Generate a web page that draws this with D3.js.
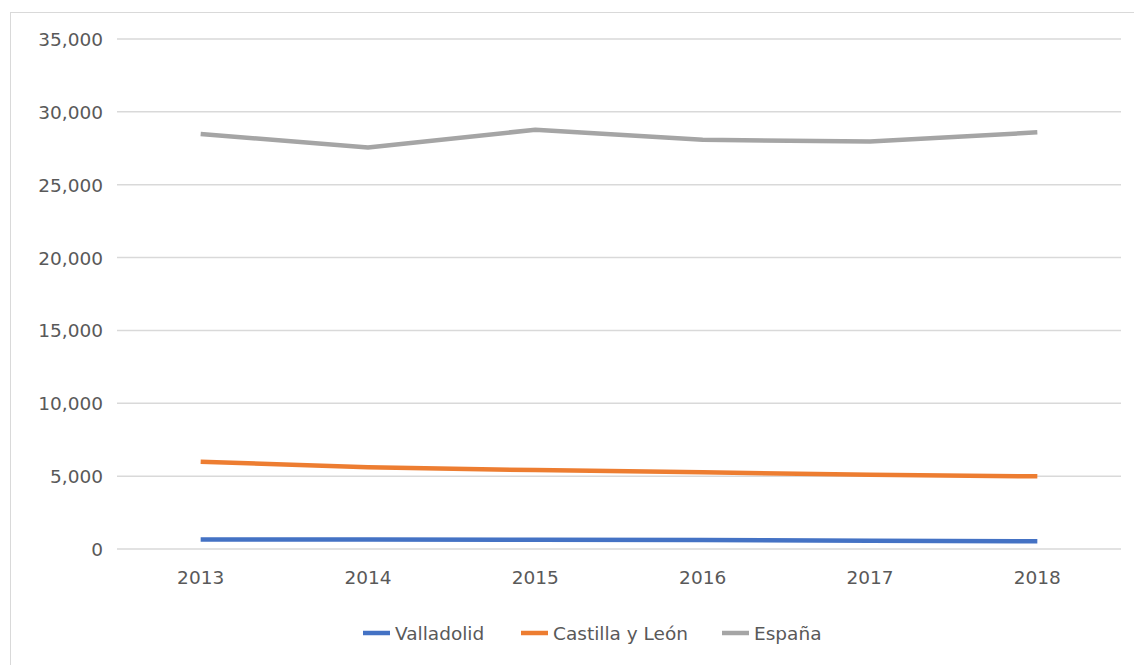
<!DOCTYPE html>
<html><head><meta charset="utf-8">
<script src="https://cdn.jsdelivr.net/npm/d3@7"></script>
<style>
html,body{margin:0;padding:0;background:#fff;}
svg{display:block;}
text{font-family:"DejaVu Sans",sans-serif;fill:#595959;}
</style></head>
<body>
<svg id="chart" width="1134" height="665"></svg>
<script>
const years = ["2013","2014","2015","2016","2017","2018"];
const valladolid = [620, 610, 600, 580, 530, 500];
const castillaYLeon = [5950, 5580, 5380, 5230, 5060, 4950];
const espana = [28450, 27520, 28740, 28050, 27930, 28560];
const seriesNames = ["Valladolid", "Castilla y León", "España"];
const seriesColors = ["#4472C4", "#ED7D31", "#A5A5A5"];
const yTicks = [0, 5000, 10000, 15000, 20000, 25000, 30000, 35000];

const series = [valladolid, castillaYLeon, espana];
const svg = d3.select("#chart");
const W = 1134, H = 665;
const m = {left: 117, right: 1121, top: 38.5, bottom: 548.5};
const FS = 18.5;

// outer chart border
svg.append("rect").attr("x", 10.5).attr("y", 12.5).attr("width", W + 20).attr("height", H + 20)
  .attr("fill", "#fff").attr("stroke", "#D9D9D9").attr("stroke-width", 1);

const x = d3.scaleBand().domain(years).range([m.left, m.right]);
const y = d3.scaleLinear().domain([0, 35000]).range([m.bottom, m.top]);

// gridlines
const yAxis = d3.axisLeft(y).tickValues(yTicks).tickSize(-(m.right - m.left)).tickPadding(14)
  .tickFormat(d3.format(","));
const gy = svg.append("g").attr("transform", `translate(${m.left},0)`).call(yAxis);
gy.select(".domain").remove();
gy.selectAll(".tick line").attr("stroke", "#D9D9D9").attr("stroke-width", 1.5);
gy.selectAll(".tick text").attr("font-size", FS).attr("fill", "#595959")
  .attr("font-family", "'DejaVu Sans', sans-serif").attr("dy", "0.38em");

const xAxis = d3.axisBottom(x).tickSize(0).tickPadding(22);
const gx = svg.append("g").attr("transform", `translate(0,${m.bottom})`).call(xAxis);
gx.select(".domain").remove();
gx.selectAll(".tick text").attr("font-size", FS).attr("fill", "#595959")
  .attr("font-family", "'DejaVu Sans', sans-serif");

const line = d3.line()
  .x((d, i) => x(years[i]) + x.bandwidth() / 2)
  .y(d => y(d));

series.forEach((s, k) => {
  svg.append("path").datum(s)
    .attr("fill", "none")
    .attr("stroke", seriesColors[k])
    .attr("stroke-width", 4.5)
    .attr("stroke-linejoin", "round")
    .attr("d", line);
});

// legend
const legendX = [363, 521, 722];
const lg = svg.append("g");
seriesNames.forEach((n, k) => {
  lg.append("line").attr("x1", legendX[k]).attr("x2", legendX[k] + 27)
    .attr("y1", 633).attr("y2", 633)
    .attr("stroke", seriesColors[k]).attr("stroke-width", 4.5);
  lg.append("text").attr("x", legendX[k] + 32).attr("y", 633).attr("dy", "0.36em")
    .attr("font-size", FS).attr("fill", "#595959")
    .attr("font-family", "'DejaVu Sans', sans-serif").text(n);
});
</script>
</body></html>
